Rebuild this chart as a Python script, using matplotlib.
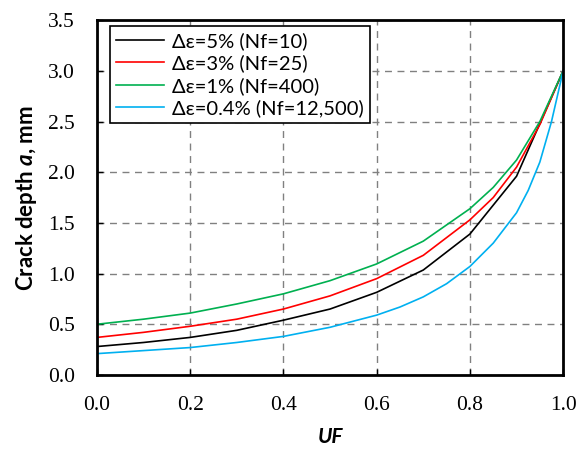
import matplotlib
matplotlib.use("Agg")
import matplotlib.pyplot as plt
from matplotlib.ticker import FormatStrFormatter

# crack depth vs usage fraction for four strain ranges
uf_5 = [0.0, 0.1, 0.2, 0.3, 0.4, 0.5, 0.6, 0.7, 0.8, 0.9, 1.0]
a_5 = [0.28, 0.32, 0.37, 0.44, 0.54, 0.65, 0.815, 1.035, 1.39, 1.96, 3.0]

uf_3 = [0.0, 0.1, 0.2, 0.3, 0.4, 0.5, 0.6, 0.7, 0.8, 0.85, 0.9, 0.95, 1.0]
a_3 = [0.37, 0.42, 0.48, 0.55, 0.65, 0.78, 0.95, 1.18, 1.53, 1.75, 2.05, 2.47, 3.0]

uf_1 = [0.0, 0.1, 0.2, 0.3, 0.4, 0.5, 0.6, 0.7, 0.8, 0.85, 0.9, 0.95, 1.0]
a_1 = [0.50, 0.55, 0.61, 0.70, 0.80, 0.93, 1.095, 1.32, 1.64, 1.85, 2.12, 2.50, 3.0]

uf_04 = [0.0, 0.1, 0.2, 0.3, 0.4, 0.5, 0.6, 0.65, 0.7, 0.75, 0.8, 0.85, 0.9, 0.925, 0.95, 0.975, 1.0]
a_04 = [0.21, 0.24, 0.27, 0.32, 0.38, 0.47, 0.59, 0.67, 0.77, 0.90, 1.07, 1.30, 1.60, 1.82, 2.10, 2.50, 3.0]

labels = ["Δε=5% (Nf=10)", "Δε=3% (Nf=25)", "Δε=1% (Nf=400)", "Δε=0.4% (Nf=12,500)"]
colors = ["black", "#ff0000", "#00b050", "#00b0f0"]
xticks = [0.0, 0.2, 0.4, 0.6, 0.8, 1.0]
yticks = [0.0, 0.5, 1.0, 1.5, 2.0, 2.5, 3.0, 3.5]

plt.rcParams['mathtext.fontset'] = 'custom'
plt.rcParams['mathtext.it'] = 'Lato:bold:italic'

fig = plt.figure(figsize=(5.77, 4.49), dpi=100)
ax = fig.add_axes([0.168, 0.165, 0.808, 0.79])

for xs, ys, lab, c in zip([uf_5, uf_3, uf_1, uf_04], [a_5, a_3, a_1, a_04], labels, colors):
    ax.plot(xs, ys, color=c, lw=1.2, label=lab)

ax.set_xlim(0, 1.0)
ax.set_ylim(0, 3.5)
ax.set_xticks(xticks)
ax.set_yticks(yticks)
ax.xaxis.set_major_formatter(FormatStrFormatter("%.1f"))
ax.yaxis.set_major_formatter(FormatStrFormatter("%.1f"))
ax.tick_params(direction="in", length=4, width=1, labelsize=15.5, labelfontfamily="Liberation Serif")
ax.tick_params(axis="x", pad=15)
ax.tick_params(axis="y", pad=16)
ax.grid(True, color="#808080", ls=(0, (5, 4)), lw=1)

for s in ax.spines.values():
    s.set_linewidth(2)
    s.set_color("black")

ax.set_xlabel("UF", family="Lato", fontweight="bold", style="italic", fontsize=15, labelpad=9)
ax.set_ylabel("Crack depth $a$, mm", family="Lato", fontweight="bold", fontsize=16, labelpad=6)

leg = ax.legend(loc="upper left", bbox_to_anchor=(0.028, 0.983), prop={"family": "Lato", "size": 14.5},
                fancybox=False, framealpha=1, edgecolor="black", handlelength=2.4,
                borderaxespad=0, labelspacing=0.22, handletextpad=0.4, borderpad=0.3)
leg.get_frame().set_linewidth(1.2)

fig.savefig("out.png", dpi=100)
